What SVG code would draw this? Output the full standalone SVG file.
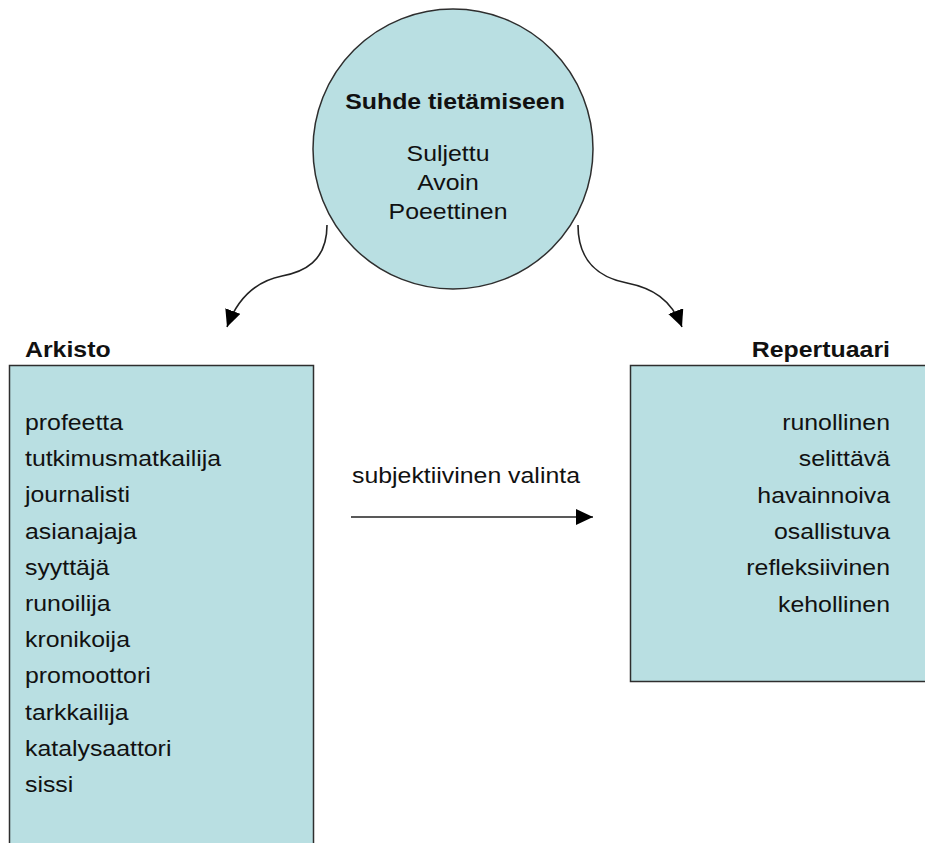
<svg xmlns="http://www.w3.org/2000/svg" width="925" height="843" viewBox="0 0 925 843">
<style>
.shape{fill:#b9dfe2;stroke:#2e2e2e;stroke-width:1.5}
.t{font-family:"Liberation Sans",Arial,Helvetica,sans-serif;font-size:22px;fill:#111}
.b{font-weight:bold}
.conn{fill:none;stroke:#222;stroke-width:1.6}
</style>
<defs>
<marker id="ah" markerUnits="userSpaceOnUse" markerWidth="18" markerHeight="18" refX="17" refY="8" orient="auto">
<path d="M0,0 L17,8 L0,16 z" fill="#000"/>
</marker>
</defs>
<rect width="925" height="843" fill="#fff"/>
<g id="suhde">
<circle class="shape" cx="453" cy="149" r="140"/>
<g transform="scale(1.13,1)">
<text class="t b" x="402.7" y="109" text-anchor="middle">Suhde tietämiseen</text>
<text class="t" x="396.5" y="161" text-anchor="middle">Suljettu</text>
<text class="t" x="396.5" y="190" text-anchor="middle">Avoin</text>
<text class="t" x="396.5" y="219" text-anchor="middle">Poeettinen</text>
</g>
</g>
<g id="arkisto">
<rect class="shape" x="9.5" y="365.5" width="304" height="500"/>
<g transform="scale(1.13,1)">
<text class="t b" x="22.1" y="357">Arkisto</text>
<text class="t" x="22.1" y="430">profeetta</text>
<text class="t" x="22.1" y="466.2">tutkimusmatkailija</text>
<text class="t" x="22.1" y="502.4">journalisti</text>
<text class="t" x="22.1" y="538.6">asianajaja</text>
<text class="t" x="22.1" y="574.8">syyttäjä</text>
<text class="t" x="22.1" y="611">runoilija</text>
<text class="t" x="22.1" y="647.2">kronikoija</text>
<text class="t" x="22.1" y="683.4">promoottori</text>
<text class="t" x="22.1" y="719.6">tarkkailija</text>
<text class="t" x="22.1" y="755.8">katalysaattori</text>
<text class="t" x="22.1" y="792">sissi</text>
</g>
</g>
<g id="repertuaari">
<rect class="shape" x="630.5" y="365.5" width="310" height="316"/>
<g transform="scale(1.13,1)">
<text class="t b" x="787.6" y="357" text-anchor="end">Repertuaari</text>
<text class="t" x="787.6" y="430" text-anchor="end">runollinen</text>
<text class="t" x="787.6" y="466.5" text-anchor="end">selittävä</text>
<text class="t" x="787.6" y="503" text-anchor="end">havainnoiva</text>
<text class="t" x="787.6" y="539" text-anchor="end">osallistuva</text>
<text class="t" x="787.6" y="575.5" text-anchor="end">refleksiivinen</text>
<text class="t" x="787.6" y="612" text-anchor="end">kehollinen</text>
</g>
</g>
<g id="connectors">
<path class="conn" d="M327,225 C327,262 303,272 282,276 C257,281 238,297 227,327" marker-end="url(#ah)"/>
<path class="conn" d="M578,225 C578,262 600,278 627,283 C652,288 671,299 682,327" marker-end="url(#ah)"/>
<path class="conn" d="M351,517 L593,517" marker-end="url(#ah)"/>
<g transform="scale(1.13,1)">
<text class="t" x="311.5" y="483">subjektiivinen valinta</text>
</g>
</g>
</svg>
